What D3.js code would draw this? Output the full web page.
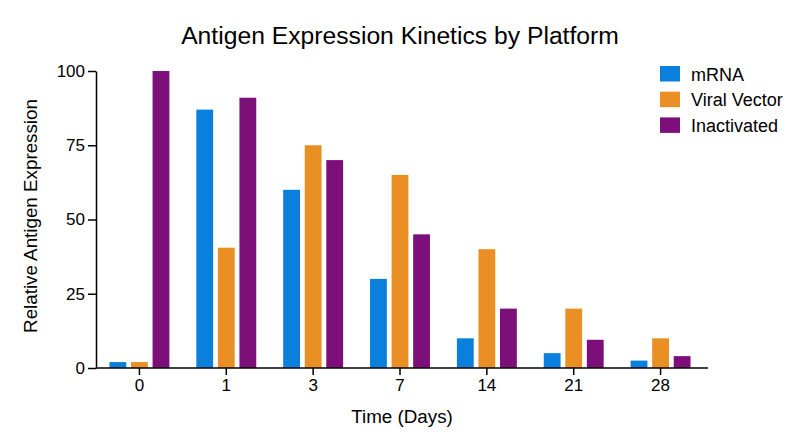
<!DOCTYPE html>
<html><head><meta charset="utf-8">
<script src="https://cdn.jsdelivr.net/npm/d3@7"></script>
<style>body{margin:0;background:#fff;} svg{display:block;font-family:"Liberation Sans",Arial,sans-serif;}</style>
</head><body>
<svg id="c" width="800" height="447"></svg>
<script>
const days = ["0","1","3","7","14","21","28"];
const seriesNames = ["mRNA","Viral Vector","Inactivated"];
const mRNA = [2, 87, 60, 30, 10, 5, 2.5];
const viralVector = [2, 40.5, 75, 65, 40, 20, 10];
const inactivated = [100, 91, 70, 45, 20, 9.5, 4];
const yTicks = [0, 25, 50, 75, 100];
const colors = ["#0b7fdc", "#e98f24", "#7d0f7a"];
const seriesValues = [mRNA, viralVector, inactivated];

const svg = d3.select("#c");
const L = 96, R = 704, T = 71, B = 368;
const FF = "Liberation Sans, Arial, sans-serif";
const x0 = d3.scaleBand().domain(days).range([L, R]).paddingInner(0.31).paddingOuter(0.155);
const x1 = d3.scaleBand().domain(seriesNames).range([0, x0.bandwidth()]).paddingInner(0.22);
const y = d3.scaleLinear().domain([0, 100]).range([B, T]);

const g = svg.append("g");
days.forEach((d, i) => {
  seriesNames.forEach((s, j) => {
    const v = seriesValues[j][i];
    g.append("rect")
      .attr("x", x0(d) + x1(s))
      .attr("y", y(v))
      .attr("width", x1.bandwidth())
      .attr("height", y(0) - y(v))
      .attr("fill", colors[j]);
  });
});

// y axis
const ya = svg.append("g").attr("transform", `translate(${L},0)`)
  .call(d3.axisLeft(y).tickValues(yTicks).tickSize(8).tickPadding(3).tickSizeOuter(0));
ya.select(".domain").attr("stroke", "#000").attr("stroke-width", 1.5);
ya.selectAll(".tick line").attr("stroke", "#000").attr("stroke-width", 1.5);
ya.selectAll(".tick text").attr("font-size", 17).attr("fill", "#000").attr("font-family", FF);

// x axis
const xa = svg.append("g").attr("transform", `translate(0,${B})`)
  .call(d3.axisBottom(x0).tickSize(7).tickPadding(4).tickSizeOuter(0));
xa.select(".domain").attr("d", `M${L},0H708`).attr("stroke", "#000").attr("stroke-width", 1.5);
xa.selectAll(".tick line").attr("stroke", "#000").attr("stroke-width", 1.5);
xa.selectAll(".tick text").attr("font-size", 17).attr("fill", "#000").attr("font-family", FF);

// title
svg.append("text").attr("x", 400).attr("y", 44).attr("text-anchor", "middle")
  .attr("font-size", 24.7).attr("fill", "#000").text("Antigen Expression Kinetics by Platform");
// axis labels
svg.append("text").attr("x", 402).attr("y", 423).attr("text-anchor", "middle")
  .attr("font-size", 18.8).attr("fill", "#000").text("Time (Days)");
svg.append("text").attr("transform", `translate(37,216) rotate(-90)`).attr("text-anchor", "middle")
  .attr("font-size", 18.8).attr("fill", "#000").text("Relative Antigen Expression");

// legend
const lg = svg.append("g");
seriesNames.forEach((s, j) => {
  const yy = 66 + j * 25.7;
  lg.append("rect").attr("x", 660).attr("y", yy).attr("width", 20).attr("height", 15.5).attr("fill", colors[j]);
  lg.append("text").attr("x", 691).attr("y", yy + 14.5).attr("font-size", 18).attr("fill", "#000").text(s);
});
</script>
</body></html>
